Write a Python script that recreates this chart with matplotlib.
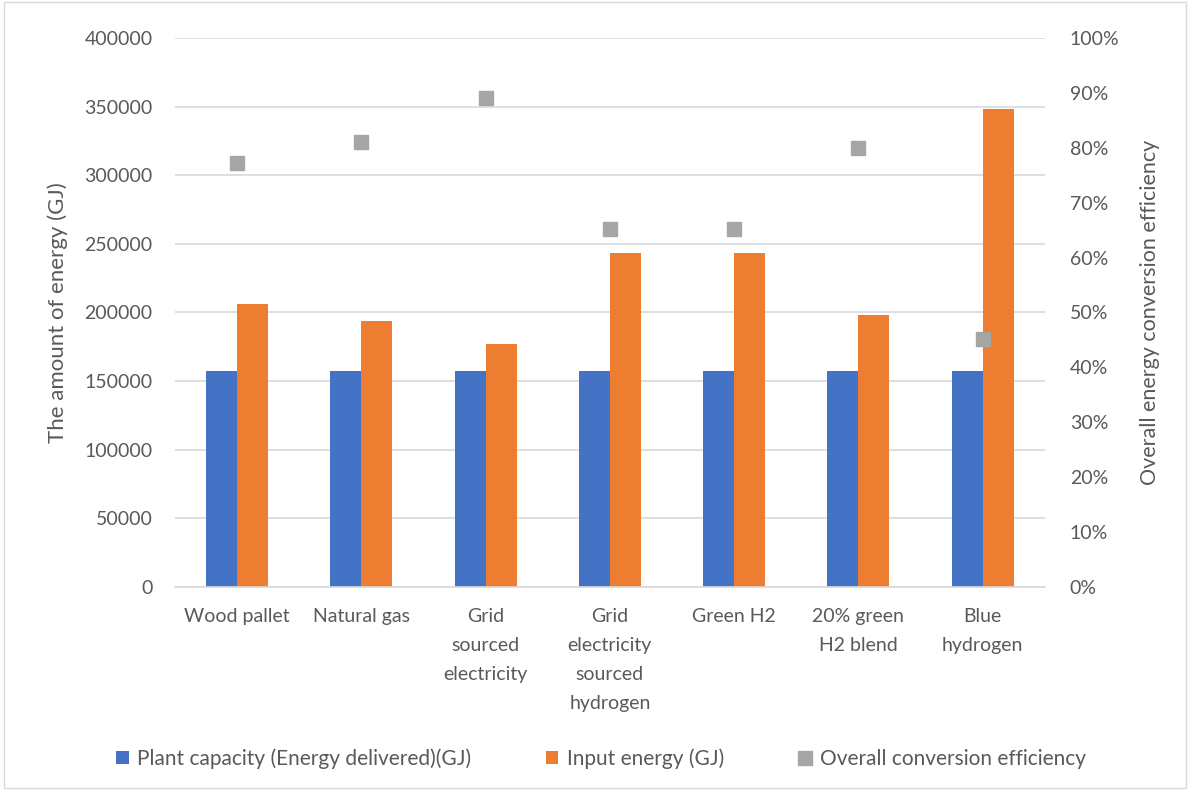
import matplotlib.pyplot as plt
import numpy as np
from matplotlib.ticker import PercentFormatter
from matplotlib.patches import Rectangle

plt.rcParams['font.family'] = ['Lato', 'DejaVu Sans']

# energy data per heating option
categories = ['Wood pallet', 'Natural gas', 'Grid\nsourced\nelectricity',
              'Grid\nelectricity\nsourced\nhydrogen', 'Green H2',
              '20% green\nH2 blend', 'Blue\nhydrogen']
plant_capacity = [157600, 157600, 157600, 157600, 157600, 157600, 157600]
input_energy = [206000, 194000, 176800, 243600, 243600, 198000, 348500]
efficiency = [77.2, 81.1, 89.1, 65.2, 65.2, 80.0, 45.2]

txt = '#595959'
fig = plt.figure(figsize=(11.9, 7.9), dpi=100)
ax1 = fig.add_axes([0.147, 0.257, 0.731, 0.695])
ax2 = ax1.twinx()

x = np.arange(len(categories))
w = 0.25
ax1.bar(x - w / 2, plant_capacity, w, color='#4472c4', label='Plant capacity (Energy delivered)(GJ)', zorder=2)
ax1.bar(x + w / 2, input_energy, w, color='#ed7d31', label='Input energy (GJ)', zorder=2)
ax2.plot(x, efficiency, 's', color='#a5a5a5', markersize=10, label='Overall conversion efficiency', zorder=3)

ax1.set_xlim(-0.5, len(categories) - 0.5)
ax1.set_ylim(0, 400000)
ax1.set_yticks(np.arange(0, 400001, 50000))
ax2.set_ylim(0, 100)
ax2.set_yticks(np.arange(0, 101, 10))
ax2.yaxis.set_major_formatter(PercentFormatter(decimals=0))

ax1.grid(axis='y', color='#d9d9d9', linewidth=1.2, zorder=0)
ax1.set_axisbelow(True)
for a in (ax1, ax2):
    for s in a.spines.values():
        s.set_visible(False)
    a.tick_params(length=0, labelsize=14, colors=txt)
ax1.spines['bottom'].set_visible(True)
ax1.spines['bottom'].set_color('#d9d9d9')
ax1.spines['bottom'].set_linewidth(1.2)

ax1.set_xticks(x)
ax1.set_xticklabels(categories, fontsize=14, color=txt, linespacing=1.85, va='top')
ax1.tick_params(axis='x', pad=15)
ax1.tick_params(axis='y', pad=16)
ax2.tick_params(axis='y', pad=18)

ax1.set_ylabel('The amount of energy (GJ)', fontsize=16, color=txt, labelpad=12)
ax2.set_ylabel('Overall energy conversion efficiency', fontsize=15.5, color=txt, labelpad=15)

h1, l1 = ax1.get_legend_handles_labels()
h2, l2 = ax2.get_legend_handles_labels()
fig.legend(h1 + h2, l1 + l2, loc='center', bbox_to_anchor=(0.505, 0.04), ncol=3,
           frameon=False, fontsize=15, labelcolor=txt, handlelength=0.6,
           handleheight=0.6, handletextpad=0.4, columnspacing=3.6)

fig.patches.append(Rectangle((0.003, 0.003), 0.994, 0.994, transform=fig.transFigure,
                             fill=False, edgecolor='#d9d9d9', linewidth=1))

fig.savefig('out.png', dpi=100)
